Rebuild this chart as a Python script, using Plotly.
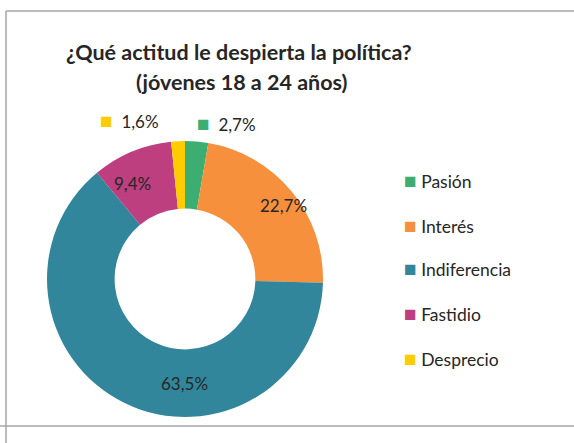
import plotly.graph_objects as go

categories = ["Pasión", "Interés", "Indiferencia", "Fastidio", "Desprecio"]
values = [2.7, 22.7, 63.5, 9.4, 1.6]
colors = ["#3DAE72", "#F6903D", "#31869B", "#BD3F80", "#FFCC00"]
title_lines = ["¿Qué actitud le despierta la política?", "(jóvenes 18 a 24 años)"]

W, H = 574, 443
FONT = "Lato, 'Open Sans', sans-serif"
TXT = "#262626"

def fmt(v):
    return f"{v:.1f}".replace(".", ",") + "%"

def key(col):
    return f"<span style='color:{col};font-size:21px'>■</span>"

fig = go.Figure()
fig.add_trace(go.Pie(
    labels=categories, values=values, sort=False, direction="clockwise", rotation=0,
    hole=0.51, marker=dict(colors=colors, line=dict(width=0)),
    textinfo="none", showlegend=False,
    domain=dict(x=[44 / W, 326 / W], y=[(H - 279 - 138) / H, (H - 279 + 138) / H]),
))

ann = []
# title
for line, (tx, ty) in zip(title_lines, [(239, 52), (241, 82)]):
    ann.append(dict(x=tx / W, y=1 - ty / H, xanchor="center", yanchor="middle",
                    text="<b>" + line + "</b>", showarrow=False,
                    xref="paper", yref="paper", font=dict(size=21.5, family=FONT, color=TXT)))

# data labels (inside for big slices, outside with key for small ones)
label_pos = {"Interés": (283, 205), "Indiferencia": (184, 383), "Fastidio": (132, 183)}
outside_pos = {"Pasión": (195, 122), "Desprecio": (98, 120)}
for c, v, col in zip(categories, values, colors):
    if c in label_pos:
        px, py = label_pos[c]
        ann.append(dict(x=px / W, y=1 - py / H, xanchor="center", yanchor="middle",
                        text=fmt(v), showarrow=False, xref="paper", yref="paper",
                        font=dict(size=17, family=FONT, color=TXT)))
    else:
        px, py = outside_pos[c]
        ann.append(dict(x=px / W, y=1 - py / H, xanchor="left", yanchor="middle",
                        text=f"{key(col)}  {fmt(v)}", showarrow=False,
                        xref="paper", yref="paper", font=dict(size=17, family=FONT, color=TXT)))

# legend
leg_y = [180, 224, 267, 312, 357]
for c, col, ly in zip(categories, colors, leg_y):
    ann.append(dict(x=402 / W, y=1 - ly / H, xanchor="left", yanchor="middle",
                    text=f"{key(col)} {c}", showarrow=False,
                    xref="paper", yref="paper", font=dict(size=17.5, family=FONT, color=TXT)))

# chart frame
shapes = [
    dict(type="line", xref="paper", yref="paper", x0=6 / W, x1=1, y0=1 - 11 / H, y1=1 - 11 / H,
         line=dict(color="#A6A6A6", width=1.5)),
    dict(type="line", xref="paper", yref="paper", x0=6 / W, x1=6 / W, y0=0, y1=1 - 11 / H,
         line=dict(color="#A6A6A6", width=1.5)),
    dict(type="line", xref="paper", yref="paper", x0=0, x1=1, y0=1 - 426 / H, y1=1 - 426 / H,
         line=dict(color="#A6A6A6", width=1.5)),
]

fig.update_layout(width=W, height=H, margin=dict(l=0, r=0, t=0, b=0),
                  paper_bgcolor="white", plot_bgcolor="white",
                  annotations=ann, shapes=shapes, showlegend=False)
fig.write_html("out.html", config={"displayModeBar": False},
               post_script="document.body.style.margin='0';document.body.style.overflow='hidden';")
